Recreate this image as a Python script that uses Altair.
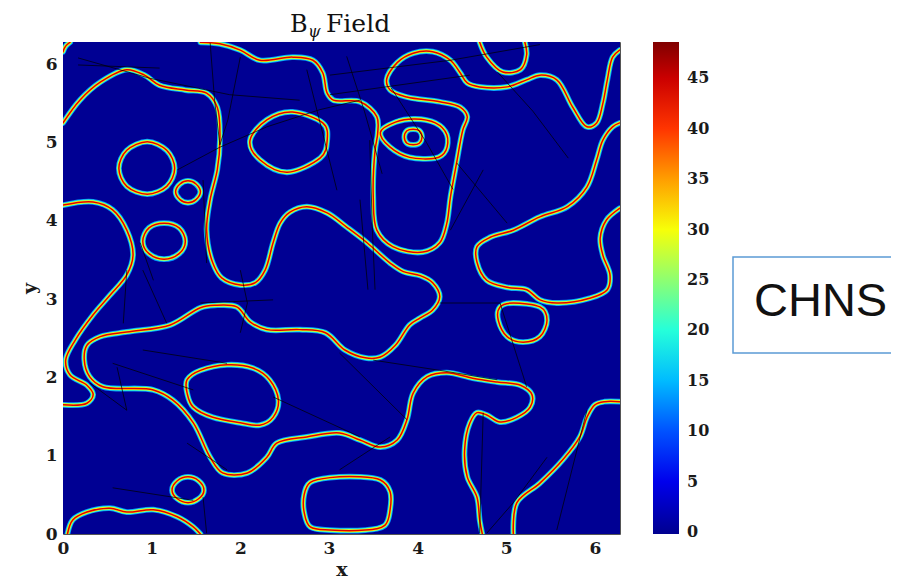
import altair as alt
import pandas as pd

XMAX = 6.2832
axis_ticks = [0, 1, 2, 3, 4, 5, 6]

# jet-like colour map for the field (colour bar runs from just below 0 up to 48.6)
cb_stops = [-0.2, 6.075, 18.225, 30.375, 42.525, 48.6]
cb_colors = ["#00008f", "#0000ff", "#00ffff", "#ffff00", "#ff0000", "#800000"]
cb_ticks = [0, 5, 10, 15, 20, 25, 30, 35, 40, 45]

# interface strand: jet colours of the field across the thin interface layer (outer -> core)
pass_width = [5.8, 4.3, 2.9, 1.5]
pass_color = ["#0091ff", "#3bffc4", "#fff200", "#e00000"]

# ---- open interface curves (x, y) ----
curve_corner = [(0.0, 6.16), (0.03, 6.23), (0.08, 6.28)]
curve_C1 = [(0, 5.25), (0.19, 5.54), (0.42, 5.77), (0.72, 5.93), (0.92, 5.86), (1.09, 5.73),
            (1.38, 5.67), (1.62, 5.63), (1.74, 5.45), (1.77, 5.03), (1.74, 4.65), (1.66, 4.27),
            (1.62, 3.88), (1.69, 3.46), (1.79, 3.27), (2.00, 3.18), (2.17, 3.21), (2.28, 3.37),
            (2.37, 3.72), (2.45, 3.97), (2.56, 4.11), (2.75, 4.18), (2.98, 4.10), (3.20, 3.92),
            (3.43, 3.72), (3.69, 3.46), (3.84, 3.35), (4.03, 3.30), (4.17, 3.21), (4.25, 3.03),
            (4.17, 2.86), (4.03, 2.76), (3.91, 2.67), (3.75, 2.41), (3.58, 2.26), (3.41, 2.25),
            (3.18, 2.35), (2.96, 2.57), (2.67, 2.61), (2.30, 2.61), (2.11, 2.71), (1.96, 2.90),
            (1.71, 2.92), (1.55, 2.89), (1.21, 2.67), (0.72, 2.58), (0.42, 2.52), (0.27, 2.41),
            (0.24, 2.22), (0.30, 2.01), (0.45, 1.88), (1.02, 1.84), (1.24, 1.71), (1.47, 1.42),
            (1.66, 0.98), (1.80, 0.78), (2.08, 0.78), (2.30, 0.98), (2.41, 1.16), (2.75, 1.24),
            (3.12, 1.29), (3.35, 1.20), (3.58, 1.11), (3.77, 1.20), (3.88, 1.46), (3.95, 1.80),
            (4.11, 2.01), (4.33, 2.06), (4.62, 1.99), (4.90, 1.94), (5.16, 1.90), (5.29, 1.78),
            (5.27, 1.62), (5.12, 1.49), (4.93, 1.43), (4.78, 1.52), (4.67, 1.55), (4.59, 1.42),
            (4.53, 1.07), (4.56, 0.73), (4.67, 0.47), (4.70, 0.18), (4.73, 0.0)]
curve_A = [(0, 4.20), (0.34, 4.24), (0.56, 4.14), (0.72, 3.88), (0.79, 3.56), (0.72, 3.31),
           (0.53, 3.05), (0.34, 2.80), (0.14, 2.48), (0.03, 2.22), (0.08, 2.03), (0.27, 1.90),
           (0.34, 1.78), (0.27, 1.67), (0, 1.65)]
curve_T = [(6.28, 6.18), (6.20, 6.09), (6.14, 5.80), (6.09, 5.50), (6.02, 5.25), (5.91, 5.20),
           (5.75, 5.45), (5.57, 5.80), (5.38, 5.86), (5.23, 5.80), (5.01, 5.71), (4.70, 5.71),
           (4.56, 5.76), (4.48, 5.89), (4.37, 6.05), (4.17, 6.16), (3.95, 6.14), (3.77, 6.02),
           (3.65, 5.80), (3.69, 5.67), (3.88, 5.58), (4.25, 5.52), (4.48, 5.45), (4.56, 5.33),
           (4.51, 5.16), (4.44, 4.74), (4.37, 4.30), (4.33, 3.97), (4.25, 3.72), (4.06, 3.60),
           (3.72, 3.67), (3.54, 3.88), (3.50, 4.30), (3.52, 4.90), (3.55, 5.12), (3.54, 5.33),
           (3.35, 5.52), (3.05, 5.54), (2.98, 5.63), (2.93, 5.89), (2.82, 6.05), (2.59, 6.09),
           (2.22, 6.05), (2.00, 6.18), (1.77, 6.26), (1.55, 6.28)]
curve_U = [(4.70, 6.28), (4.78, 6.09), (4.96, 5.90), (5.16, 5.93), (5.23, 6.12), (5.21, 6.28)]
curve_R = [(6.28, 5.25), (6.20, 5.20), (6.09, 5.03), (6.02, 4.78), (5.91, 4.43), (5.69, 4.18),
           (5.38, 4.05), (5.08, 3.88), (4.82, 3.79), (4.67, 3.67), (4.67, 3.47), (4.78, 3.24),
           (5.01, 3.15), (5.23, 3.12), (5.38, 2.99), (5.57, 2.95), (5.94, 3.01), (6.14, 3.12),
           (6.17, 3.31), (6.09, 3.56), (6.06, 3.78), (6.13, 4.01), (6.28, 4.16)]
curve_RB = [(5.08, 0.0), (5.12, 0.40), (5.38, 0.65), (5.64, 0.95), (5.83, 1.24), (5.91, 1.49),
            (6.00, 1.65), (6.11, 1.69), (6.28, 1.69)]
curve_BL = [(0.05, 0.0), (0.11, 0.18), (0.27, 0.28), (0.53, 0.33), (0.72, 0.28), (1.02, 0.31),
            (1.29, 0.22), (1.47, 0.09), (1.55, 0.0)]

# ---- closed interface loops (x, y) ----
loop_E = [(3.58, 5.13), (3.75, 5.26), (3.97, 5.30), (4.20, 5.25), (4.33, 5.10), (4.32, 4.90),
          (4.20, 4.80), (3.91, 4.81), (3.69, 4.94)]
loop_Ein = [(3.85, 5.07), (3.88, 5.15), (3.95, 5.17), (4.02, 5.15), (4.05, 5.07), (4.02, 4.99),
            (3.95, 4.97), (3.88, 4.99)]
loop_c1 = [(0.63, 4.67), (0.72, 4.90), (0.95, 5.01), (1.17, 4.90), (1.26, 4.67), (1.17, 4.44),
           (0.95, 4.34), (0.72, 4.44)]
loop_c2 = [(1.27, 4.37), (1.32, 4.47), (1.41, 4.51), (1.50, 4.47), (1.55, 4.37), (1.50, 4.27),
           (1.41, 4.23), (1.32, 4.27)]
loop_c3 = [(0.90, 3.74), (0.97, 3.91), (1.14, 3.97), (1.31, 3.91), (1.38, 3.74), (1.31, 3.58),
           (1.14, 3.51), (0.97, 3.58)]
loop_c4 = [(2.11, 5.03), (2.30, 5.29), (2.59, 5.39), (2.93, 5.25), (2.98, 5.03), (2.90, 4.80),
           (2.53, 4.62), (2.22, 4.78)]
loop_c5 = [(4.91, 2.73), (4.93, 2.90), (5.08, 2.95), (5.38, 2.90), (5.46, 2.73), (5.38, 2.52),
           (5.19, 2.45), (5.01, 2.52)]
loop_c6 = [(1.23, 0.56), (1.29, 0.68), (1.41, 0.73), (1.53, 0.68), (1.59, 0.56), (1.53, 0.45),
           (1.41, 0.40), (1.29, 0.45)]
loop_O = [(1.40, 1.97), (1.55, 2.09), (1.85, 2.16), (2.14, 2.12), (2.33, 1.97), (2.43, 1.71),
          (2.37, 1.49), (2.22, 1.39), (2.00, 1.42), (1.69, 1.49), (1.47, 1.62), (1.40, 1.80)]
loop_RR = [(2.72, 0.50), (2.79, 0.66), (3.01, 0.72), (3.35, 0.73), (3.58, 0.69), (3.69, 0.54),
           (3.69, 0.31), (3.63, 0.11), (3.41, 0.05), (3.01, 0.05), (2.79, 0.09), (2.72, 0.28)]

# ---- black tracer paths (x, y) ----
tracks = [
    [(0.17, 6.08), (0.98, 5.82), (1.88, 5.61), (2.67, 5.54)],
    [(0.17, 5.99), (1.09, 5.95)],
    [(1.66, 6.27), (1.71, 5.54), (1.77, 4.97)],
    [(2.00, 6.09), (1.86, 5.29), (1.77, 4.97)],
    [(1.29, 4.65), (1.77, 4.94), (2.30, 5.20), (2.90, 5.42), (3.35, 5.54)],
    [(2.75, 5.93), (3.09, 4.39)],
    [(3.01, 5.86), (4.37, 6.05), (5.38, 6.25)],
    [(3.46, 5.03), (3.49, 3.88), (3.52, 3.12)],
    [(3.35, 4.27), (3.44, 3.12)],
    [(4.74, 4.65), (4.37, 3.88)],
    [(4.44, 4.74), (5.01, 3.97)],
    [(0.90, 2.35), (1.85, 2.18)],
    [(0.61, 2.13), (0.72, 1.58)],
    [(2.37, 1.75), (3.35, 1.24)],
    [(3.12, 2.31), (3.88, 1.46)],
    [(3.50, 2.22), (4.25, 2.09), (4.90, 1.97)],
    [(4.93, 2.95), (5.23, 1.88)],
    [(4.74, 1.55), (4.70, 0.01)],
    [(5.91, 1.58), (5.57, 0.05)],
    [(5.46, 0.98), (5.08, 0.40), (4.78, 0.01)],
    [(3.12, 0.82), (3.69, 1.24)],
    [(0.87, 3.72), (1.02, 3.24)],
    [(1.58, 4.52), (1.62, 3.46)],
    [(0.72, 3.37), (0.68, 2.69)],
    [(0.90, 3.37), (1.17, 2.69)],
    [(2.00, 3.37), (2.08, 2.95), (2.00, 2.57)],
    [(1.55, 2.95), (2.37, 2.99)],
    [(0.56, 2.18), (1.47, 1.84)],
    [(0.30, 1.93), (0.72, 1.58)],
    [(1.40, 1.16), (1.85, 0.82)],
    [(0.56, 0.59), (1.47, 0.43)],
    [(1.58, 0.47), (1.62, 0.01)],
    [(3.01, 5.61), (4.59, 5.86)],
    [(4.25, 2.95), (4.93, 2.95)],
    [(3.20, 6.10), (3.40, 5.40), (3.60, 4.60)],
    [(3.70, 5.70), (4.10, 5.00), (4.40, 4.40)],
    [(4.90, 5.90), (5.30, 5.40), (5.70, 4.80)],
]

open_curves = {"corner": curve_corner, "C1": curve_C1, "A": curve_A, "T": curve_T,
               "U": curve_U, "R": curve_R, "RB": curve_RB, "BL": curve_BL}
closed_loops = {"E": loop_E, "Ein": loop_Ein, "c1": loop_c1, "c2": loop_c2, "c3": loop_c3,
                "c4": loop_c4, "c5": loop_c5, "c6": loop_c6, "O": loop_O, "RR": loop_RR}


def to_df(curves):
    rows = []
    for name, pts in curves.items():
        for i, (x, y) in enumerate(pts):
            rows.append({"curve": name, "i": i, "x": x, "y": y})
    return pd.DataFrame(rows)


df_open = to_df(open_curves)
df_closed = to_df(closed_loops)
df_tracks = to_df({f"k{j}": t for j, t in enumerate(tracks)})
df_bg = pd.DataFrame({"x0": [0.0], "x1": [XMAX], "y0": [0.0], "y1": [XMAX], "v": [0.0]})
df_one = pd.DataFrame({"a": [0]})

xs = alt.Scale(domain=[0, XMAX], nice=False, zero=False)
ys = alt.Scale(domain=[0, XMAX], nice=False, zero=False)
cs = alt.Scale(domain=cb_stops, range=cb_colors, interpolate="rgb")

LABEL_FONT = "DejaVu Serif"
ax_common = dict(values=axis_ticks, format="d", labelFont=LABEL_FONT, labelFontSize=17,
                 labelFontWeight="bold", labelColor="#1a1a1a", titleFont=LABEL_FONT,
                 titleFontSize=19, titleFontWeight="bold", titleColor="#1a1a1a",
                 domain=False, ticks=False, grid=False, labelFlush=False)

bg = alt.Chart(df_bg).mark_rect().encode(
    x=alt.X("x0:Q", scale=xs, title="x",
            axis=alt.Axis(labelPadding=6, titlePadding=4, **ax_common)),
    x2="x1:Q",
    y=alt.Y("y0:Q", scale=ys, title="y",
            axis=alt.Axis(labelPadding=6, titlePadding=6, **ax_common)),
    y2="y1:Q",
    color=alt.Color("v:Q", scale=cs,
                    legend=alt.Legend(type="gradient", title=None, orient="none", legendX=590,
                                      legendY=0, direction="vertical", gradientLength=492,
                                      gradientThickness=26, gradientStrokeWidth=0,
                                      values=cb_ticks, labelFont=LABEL_FONT, labelFontSize=16,
                                      labelFontWeight="bold", labelColor="#1a1a1a",
                                      labelOffset=8, labelBaseline="middle", labelOverlap=False,
                                      padding=0)),
)

layers = [bg]
for w, col in zip(pass_width, pass_color):
    layers.append(
        alt.Chart(df_open).mark_line(interpolate="catmull-rom", strokeWidth=w, clip=True,
                                     strokeCap="round", strokeJoin="round", color=col).encode(
            x=alt.X("x:Q", scale=xs, title="x"), y=alt.Y("y:Q", scale=ys, title="y"),
            detail="curve:N", order="i:Q")
    )
    layers.append(
        alt.Chart(df_closed).mark_line(interpolate="cardinal-closed", strokeWidth=w, clip=True,
                                       strokeJoin="round", color=col).encode(
            x=alt.X("x:Q", scale=xs, title="x"), y=alt.Y("y:Q", scale=ys, title="y"),
            detail="curve:N", order="i:Q")
    )

layers.append(
    alt.Chart(df_tracks).mark_line(color="black", strokeWidth=0.9, opacity=0.8, clip=True).encode(
        x=alt.X("x:Q", scale=xs, title="x"), y=alt.Y("y:Q", scale=ys, title="y"),
        detail="curve:N", order="i:Q")
)

# title "B_psi Field"
layers.append(alt.Chart(df_one).mark_text(text="B", font=LABEL_FONT, fontSize=24, align="left",
                                          baseline="alphabetic", color="#111").encode(
    x=alt.value(227), y=alt.value(-10)))
layers.append(alt.Chart(df_one).mark_text(text="ψ", font=LABEL_FONT, fontSize=16, fontStyle="italic",
                                          align="left", baseline="alphabetic", color="#111").encode(
    x=alt.value(245), y=alt.value(-5)))
layers.append(alt.Chart(df_one).mark_text(text="Field", font=LABEL_FONT, fontSize=25, align="left",
                                          baseline="alphabetic", color="#111").encode(
    x=alt.value(263), y=alt.value(-10)))

# annotation box
layers.append(alt.Chart(df_one).mark_rect(fill="white", stroke="#5b9bd5", strokeWidth=1.5).encode(
    x=alt.value(670), x2=alt.value(860), y=alt.value(215), y2=alt.value(311)))
layers.append(alt.Chart(df_one).mark_text(text="CHNS", font="Liberation Sans", fontSize=47,
                                          align="left", baseline="alphabetic", color="#111").encode(
    x=alt.value(691), y=alt.value(274)))

chart = alt.layer(*layers).properties(
    width=557, height=492,
    padding={"left": 55, "top": 34, "right": 271, "bottom": 47},
    autosize=alt.AutoSizeParams(type="none"),
).configure_view(stroke="#555", strokeWidth=1)

chart.save("out.html", embed_options={"renderer": "svg", "actions": False})
